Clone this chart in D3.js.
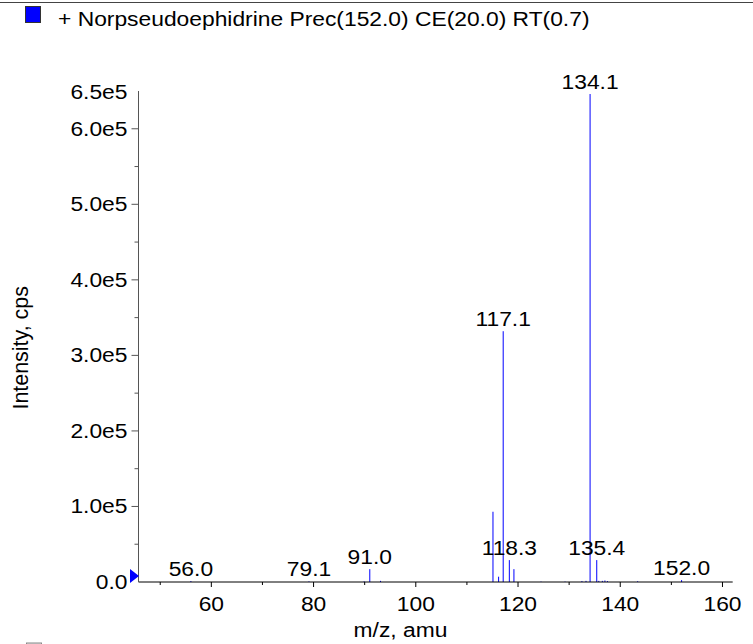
<!DOCTYPE html>
<html>
<head>
<meta charset="utf-8">
<script src="https://cdn.jsdelivr.net/npm/d3@7"></script>
<style>
  body { margin: 0; background: #fff; }
  text { font-family: "Liberation Sans", Arial, Helvetica, sans-serif; fill: #000; }
</style>
</head>
<body>
<div id="chart"></div>
<script>
// Spectrum data
var peakMz = [56.0, 79.1, 89.9, 91.0, 93.1, 115.1, 116.2, 117.1, 118.3, 119.2,
              124.5, 129.2, 132.5, 133.3, 134.1, 135.4, 135.8, 136.5, 137.0, 137.5,
              143.4, 152.0];
var peakInt = [1200, 800, 800, 17000, 1500, 93000, 7000, 332000, 29000, 17000,
               500, 500, 1200, 1500, 646000, 29000, 1500, 1500, 2000, 1200,
               1000, 2500];
// which peaks get an m/z label
var labeledMz = [56.0, 79.1, 91.0, 117.1, 118.3, 134.1, 135.4, 152.0];

var xTicks = [60, 80, 100, 120, 140, 160];
var xMinor = [50, 70, 90, 110, 130, 150];
var yTicks = [0, 1e5, 2e5, 3e5, 4e5, 5e5, 6e5];
var yTickLabels = ["0.0", "1.0e5", "2.0e5", "3.0e5", "4.0e5", "5.0e5", "6.0e5"];
var yMinor = [0.5e5, 1.5e5, 2.5e5, 3.5e5, 4.5e5, 5.5e5];
var yTopLabel = "6.5e5";

var legendText = "+ Norpseudoephidrine Prec(152.0) CE(20.0) RT(0.7)";
var xTitle = "m/z, amu";
var yTitle = "Intensity, cps";

(function() {
  var W = 753, H = 644;
  var FS = 19.5;     // font size
  var SX = 1.17;     // the picture is stretched sideways a bit

  var svg = d3.select("#chart").append("svg")
    .attr("width", W)
    .attr("height", H);

  var x = d3.scaleLinear().domain([45.75, 162.0]).range([138.5, 732.7]);
  var y = d3.scaleLinear().domain([0, 6.5e5]).range([582, 91]);

  // helper: stretched text at a point
  function stext(g, tx, ty, str, anchor) {
    return g.append("text")
      .attr("transform", "translate(" + tx + "," + ty + ") scale(" + SX + ",1)")
      .attr("text-anchor", anchor || "start")
      .style("font-size", FS + "px")
      .text(str);
  }

  // top border
  svg.append("line")
    .attr("x1", 0).attr("x2", W).attr("y1", 2.5).attr("y2", 2.5)
    .style("stroke", "#444").style("stroke-width", 1.2);

  // legend
  svg.append("rect")
    .attr("x", 25.5).attr("y", 6.5).attr("width", 15).attr("height", 16)
    .style("fill", "#0000ff").style("stroke", "#333");
  stext(svg, 58, 26, legendText);

  // next legend box, cut off at the bottom
  svg.append("rect")
    .attr("x", 26.5).attr("y", 643).attr("width", 15).attr("height", 16)
    .style("fill", "#ddd").style("stroke", "#888");

  // peaks
  svg.append("g").selectAll("line")
    .data(peakMz)
    .enter().append("line")
    .attr("x1", function(d) { return x(d); })
    .attr("x2", function(d) { return x(d); })
    .attr("y1", y(0))
    .attr("y2", function(d, i) { return y(peakInt[i]); })
    .style("stroke", "#0000ff")
    .style("stroke-width", 1);

  // peak labels
  var lg = svg.append("g");
  labeledMz.forEach(function(m) {
    var i = peakMz.indexOf(m);
    stext(lg, x(m), y(peakInt[i]) - 5, m.toFixed(1), "middle");
  });

  // x axis
  var xg = svg.append("g").attr("transform", "translate(0," + y(0) + ")");
  xg.append("line")
    .attr("x1", x.range()[0]).attr("x2", x.range()[1])
    .style("stroke", "#000");
  xg.selectAll(".xmaj").data(xTicks).enter().append("line")
    .attr("x1", function(d) { return x(d); }).attr("x2", function(d) { return x(d); })
    .attr("y1", 0).attr("y2", 5)
    .style("stroke", "#000");
  xg.selectAll(".xmin").data(xMinor).enter().append("line")
    .attr("x1", function(d) { return x(d); }).attr("x2", function(d) { return x(d); })
    .attr("y1", 0).attr("y2", 3)
    .style("stroke", "#000");
  xTicks.forEach(function(t) {
    stext(xg, x(t), 29, String(t), "middle");
  });
  stext(svg, x(97), 637, xTitle, "middle");

  // y axis
  var yg = svg.append("g").attr("transform", "translate(" + x.range()[0] + ",0)");
  yg.append("line")
    .attr("y1", y.range()[0]).attr("y2", y.range()[1])
    .style("stroke", "#555");
  yg.selectAll(".ymaj").data(yTicks.slice(1)).enter().append("line")
    .attr("y1", function(d) { return y(d); }).attr("y2", function(d) { return y(d); })
    .attr("x1", -7).attr("x2", 0)
    .style("stroke", "#555");
  yg.selectAll(".ymin").data(yMinor).enter().append("line")
    .attr("y1", function(d) { return y(d); }).attr("y2", function(d) { return y(d); })
    .attr("x1", -4).attr("x2", 0)
    .style("stroke", "#555");
  yTicks.forEach(function(t, i) {
    stext(yg, -11, y(t) + 7, yTickLabels[i], "end");
  });
  stext(yg, -11, y(6.5e5) + 8, yTopLabel, "end");

  // blue marker at the origin
  svg.append("path")
    .attr("d", "M130,569 L139,576 L130,583 Z")
    .style("fill", "#0000ff");

  // y title
  svg.append("text")
    .attr("transform", "translate(28," + y(3.1e5) + ") rotate(-90) scale(1.1," + SX + ")")
    .attr("text-anchor", "middle")
    .style("font-size", FS + "px")
    .text(yTitle);
})();
</script>
</body>
</html>
